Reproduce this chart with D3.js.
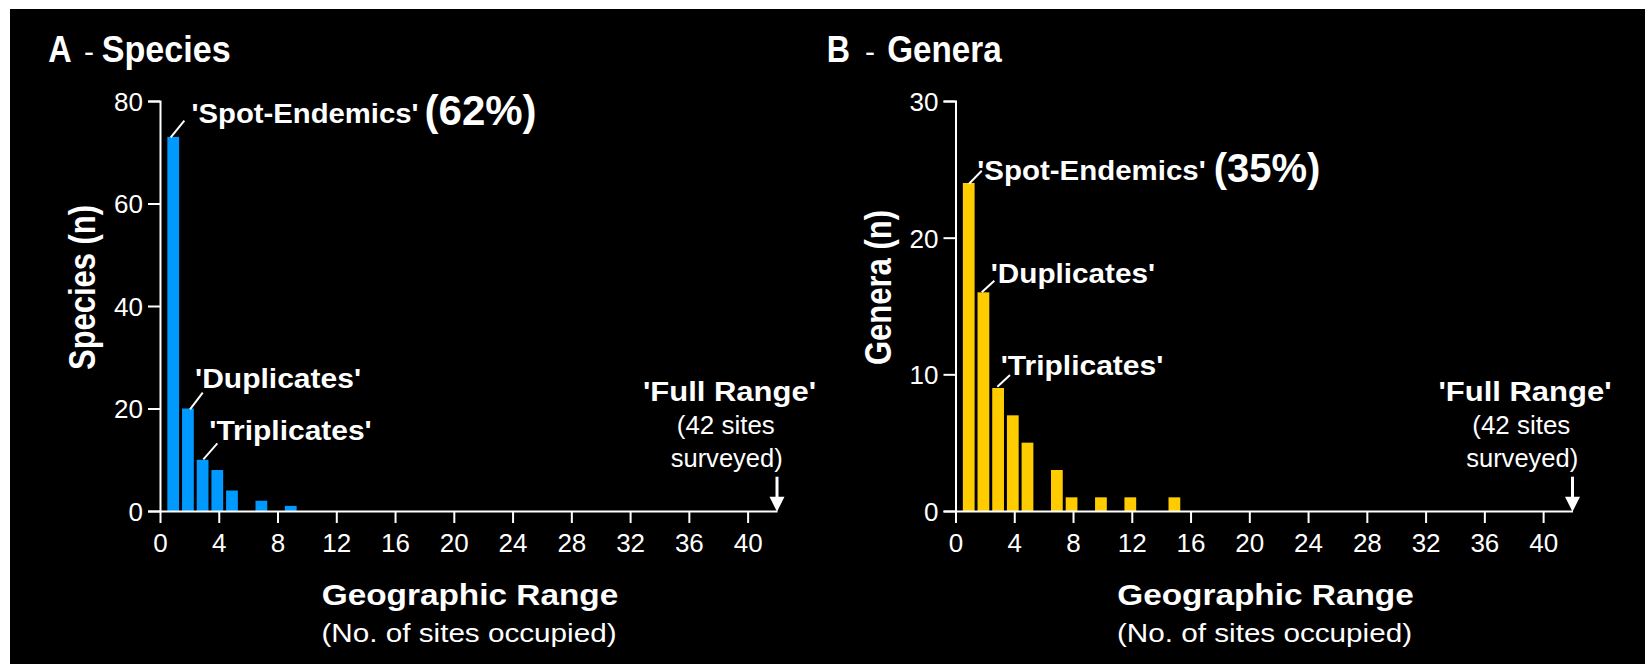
<!DOCTYPE html>
<html>
<head>
<meta charset="utf-8">
<script src="https://cdn.jsdelivr.net/npm/d3@7"></script>
<style>
  html, body { margin: 0; padding: 0; background: #ffffff; }
  svg { display: block; }
  text { font-family: "Liberation Sans", Arial, Helvetica, sans-serif; fill: #ffffff; }
</style>
</head>
<body>
<svg id="chart" width="1645" height="664"></svg>
<script>
// ---------------- DATA ----------------
const speciesSites  = [1, 2, 3, 4, 5, 7, 9];
const speciesCounts = [73, 20, 10, 8, 4, 2, 1];

const generaSites   = [1, 2, 3, 4, 5, 7, 8, 10, 12, 15];
const generaCounts  = [24, 16, 9, 7, 5, 3, 1, 1, 1, 1];

const xTickValues     = [0, 4, 8, 12, 16, 20, 24, 28, 32, 36, 40];
const speciesYTicks   = [0, 20, 40, 60, 80];
const generaYTicks    = [0, 10, 20, 30];
const totalSites      = 42;

const panelLetters    = ["A", "B"];
const panelNames      = ["Species", "Genera"];
const yAxisTitles     = ["Species (n)", "Genera (n)"];
const rangeLabels     = ["'Spot-Endemics'", "'Duplicates'", "'Triplicates'"];
const percentLabels   = ["(62%)", "(35%)"];
const fullRangeLines  = ["'Full Range'", "(42 sites", "surveyed)"];
const xAxisTitle      = "Geographic Range";
const xAxisSubtitle   = "(No. of sites occupied)";

// ---------------- LAYOUT / STYLE ----------------
const svg = d3.select("#chart");
svg.append("rect").attr("x", 10).attr("y", 9).attr("width", 1635).attr("height", 655).attr("fill", "#000");

const plotTop = 101, plotBottom = 511, plotWidth = 617;

const panels = [
  {
    sites: speciesSites, counts: speciesCounts, yTicks: speciesYTicks, yMax: 80,
    x0: 160, color: "#0099ff",
    titleX: 48.3, hyphenX: 89, nameX: 101.7, letterLen: 23.4, nameLen: 129,
    yTitleX: 95, yTitleLen: 165, pctSize: 42, pctGap: 6,
    ann: [
      { line: [3.4, 0.4, 17, -16.2],  text: [24.2, -13.6], len: 227 },
      { line: [8, 0.8, 20.7, -15.8],  text: [13, -20.5],  len: 166 },
      { line: [6.6, -0.4, 20.6, -16.4], text: [12.6, -19.7], len: 162.4 }
    ]
  },
  {
    sites: generaSites, counts: generaCounts, yTicks: generaYTicks, yMax: 30,
    x0: 955.5, color: "#ffcc00",
    titleX: 826.7, hyphenX: 870, nameX: 887.3, letterLen: 23.3, nameLen: 114.4,
    yTitleX: 890.5, yTitleLen: 155, pctSize: 40, pctGap: 8,
    ann: [
      { line: [6.2, 0.7, 18.9, -12.3], text: [14.5, -3],  len: 228.4 },
      { line: [4.2, 0, 16.8, -11.6],   text: [13.2, -9.6], len: 164.3 },
      { line: [5.1, -1.3, 17.8, -13],  text: [8.5, -13],  len: 162.6 }
    ]
  }
];

panels.forEach((p, pi) => {
  const g = svg.append("g");
  const x = d3.scaleLinear().domain([0, totalSites]).range([p.x0, p.x0 + plotWidth]);
  const y = d3.scaleLinear().domain([0, p.yMax]).range([plotBottom, plotTop]);

  // Title
  g.append("text").attr("x", p.titleX).attr("y", 62.3)
    .attr("font-size", 37).attr("font-weight", "bold")
    .attr("textLength", p.letterLen).attr("lengthAdjust", "spacingAndGlyphs")
    .text(panelLetters[pi]);
  g.append("text").attr("x", p.hyphenX).attr("y", 62.3).attr("text-anchor", "middle")
    .attr("font-size", 30).text("-");
  g.append("text").attr("x", p.nameX).attr("y", 62.3)
    .attr("font-size", 37).attr("font-weight", "bold")
    .attr("textLength", p.nameLen).attr("lengthAdjust", "spacingAndGlyphs")
    .text(panelNames[pi]);

  // Bars
  const data = p.sites.map((s, i) => ({ s, v: p.counts[i] }));
  g.selectAll("rect.bar").data(data).enter().append("rect")
    .attr("class", "bar")
    .attr("x", d => x(d.s - 0.5))
    .attr("width", d => x(d.s + 0.3) - x(d.s - 0.5))
    .attr("y", d => y(d.v))
    .attr("height", d => y(0) - y(d.v))
    .attr("fill", p.color);

  // Axes
  const yAxis = d3.axisLeft(y).tickValues(p.yTicks).tickSize(12).tickSizeOuter(12).tickPadding(5);
  const yg = g.append("g").attr("transform", `translate(${p.x0},0)`).call(yAxis);
  const xAxis = d3.axisBottom(x).tickValues(xTickValues).tickSize(12).tickSizeOuter(0).tickPadding(8);
  const xg = g.append("g").attr("transform", `translate(0,${plotBottom})`).call(xAxis);
  [yg, xg].forEach(ax => {
    ax.select(".domain").attr("stroke", "#fff").attr("stroke-width", 2).attr("fill", "none");
    ax.selectAll(".tick line").attr("stroke", "#fff").attr("stroke-width", 2);
    ax.selectAll(".tick text").attr("fill", "#fff").attr("font-size", 26)
      .attr("font-family", "'Liberation Sans', Arial, sans-serif");
  });
  xg.selectAll(".tick text").attr("dy", null).attr("y", 41);
  yg.selectAll(".tick text").attr("dy", "0.36em");

  // Y axis title
  g.append("text").attr("transform", `translate(${p.yTitleX},287.5) rotate(-90)`)
    .attr("text-anchor", "middle").attr("font-size", 37).attr("font-weight", "bold")
    .attr("textLength", p.yTitleLen).attr("lengthAdjust", "spacingAndGlyphs")
    .text(yAxisTitles[pi]);

  // X axis titles
  g.append("text").attr("x", p.x0 + 310).attr("y", 605).attr("text-anchor", "middle")
    .attr("font-size", 30).attr("font-weight", "bold")
    .attr("textLength", 296.6).attr("lengthAdjust", "spacingAndGlyphs")
    .text(xAxisTitle);
  g.append("text").attr("x", p.x0 + 309).attr("y", 642).attr("text-anchor", "middle")
    .attr("font-size", 25)
    .attr("textLength", 295).attr("lengthAdjust", "spacingAndGlyphs")
    .text(xAxisSubtitle);

  // Annotations for first three bars
  p.ann.forEach((a, ai) => {
    const d = data[ai];
    const bx = x(d.s - 0.5), by = y(d.v);
    g.append("line")
      .attr("x1", bx + a.line[0]).attr("y1", by + a.line[1])
      .attr("x2", bx + a.line[2]).attr("y2", by + a.line[3])
      .attr("stroke", "#fff").attr("stroke-width", 2);
    g.append("text").attr("x", bx + a.text[0]).attr("y", by + a.text[1])
      .attr("font-size", 27.5).attr("font-weight", "bold")
      .attr("textLength", a.len).attr("lengthAdjust", "spacingAndGlyphs")
      .text(rangeLabels[ai]);
    if (ai === 0) {
      g.append("text").attr("x", bx + a.text[0] + a.len + p.pctGap).attr("y", by + a.text[1] + 1.5)
        .attr("font-size", p.pctSize).attr("font-weight", "bold")
        .text(percentLabels[pi]);
    }
  });

  // Full range annotation + arrow
  const xe = x(totalSites);
  const frY = [400.7, 434, 466.7], frDx = [-47.5, -51.2, -50.3], frLen = [173, 98, 112];
  fullRangeLines.forEach((s, i) => {
    g.append("text").attr("x", xe + frDx[i]).attr("y", frY[i]).attr("text-anchor", "middle")
      .attr("font-size", i === 0 ? 27.5 : 25).attr("font-weight", i === 0 ? "bold" : "normal")
      .attr("textLength", frLen[i]).attr("lengthAdjust", "spacingAndGlyphs")
      .text(s);
  });
  g.append("line").attr("x1", xe).attr("x2", xe).attr("y1", 476.7).attr("y2", 498)
    .attr("stroke", "#fff").attr("stroke-width", 3);
  g.append("path")
    .attr("d", `M${xe - 7.5},496.7 L${xe + 7.5},496.7 L${xe},${plotBottom + 0.7} Z`)
    .attr("fill", "#fff");
});
</script>
</body>
</html>
